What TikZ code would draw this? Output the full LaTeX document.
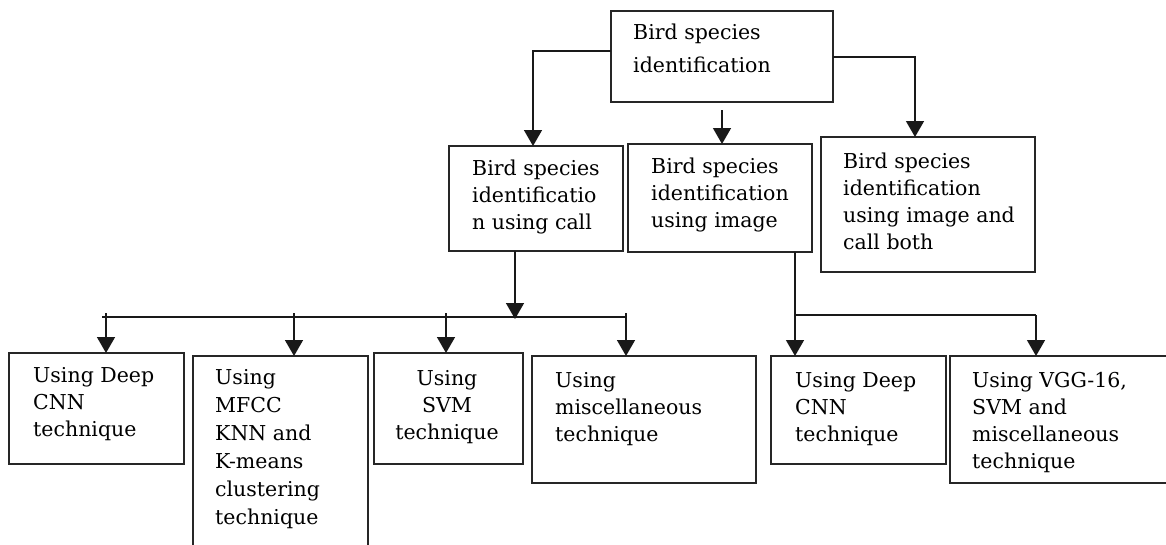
\documentclass[tikz,border=0pt]{standalone}
\usepackage{fontspec}
\setmainfont{DejaVu Serif}
\usetikzlibrary{arrows.meta}
\begin{document}
\begin{tikzpicture}[x=1pt,y=-1pt,
  box/.style={draw=black!85,line width=1.8pt,inner sep=0pt,outer sep=0pt,anchor=north west},
  txt/.style={anchor=north west,inner sep=0pt,align=left,font=\fontsize{20.5}{27}\selectfont},
  link/.style={draw=black!90,line width=1.5pt},
  arr/.style={link,-{Triangle[width=18pt,length=16pt]}}]
\useasboundingbox (0,0) rectangle (1166,544);
% boxes: top-left corner, size
\node[box,minimum width=222pt,minimum height=91pt]  (root) at (611,11) {};
\node[box,minimum width=174pt,minimum height=105pt] (call) at (449,146) {};
\node[box,minimum width=184pt,minimum height=108pt] (img)  at (628,144) {};
\node[box,minimum width=214pt,minimum height=135pt] (both) at (821,137) {};
\node[box,minimum width=175pt,minimum height=111pt] (dl)   at (9,353) {};
\node[box,minimum width=175pt,minimum height=200pt] (mfcc) at (193,356) {};
\node[box,minimum width=149pt,minimum height=111pt] (svm)  at (374,353) {};
\node[box,minimum width=224pt,minimum height=127pt] (misc) at (532,356) {};
\node[box,minimum width=175pt,minimum height=108pt] (dr)   at (771,356) {};
\node[box,minimum width=230pt,minimum height=127pt] (vgg)  at (950,356) {};
% texts
\node[txt,font=\fontsize{20.5}{33}\selectfont] (troot) at (633,24) {Bird species\\identification};
\node[txt] (tcall) at (472,160) {Bird species\\identificatio\\n using call};
\node[txt] (timg)  at (651,158) {Bird species\\identification\\using image};
\node[txt] (tboth) at (843,153) {Bird species\\identification\\using image and\\call both};
\node[txt] (tdl)   at (33,367) {Using Deep\\CNN\\technique};
\node[txt,font=\fontsize{20.5}{28}\selectfont] (tmfcc) at (215,369) {Using\\MFCC\\KNN and\\K-means\\clustering\\technique};
\node[txt,align=center,anchor=north] (tsvm) at (447,370) {Using\\SVM\\technique};
\node[txt] (tmisc) at (555,372) {Using\\miscellaneous\\technique};
\node[txt] (tdr)   at (795,372) {Using Deep\\CNN\\technique};
\node[txt] (tvgg)  at (972,372) {Using VGG-16,\\SVM and\\miscellaneous\\technique};
% root to the three methods
\draw[arr] ([yshift=5.5pt]root.west) -| ([xshift=-3pt]call.north);
\draw[arr] ([yshift=-8pt]root.south) -- (root.south |- img.north);
\draw[arr] ([yshift=-0.5pt]root.east) -| ([xshift=-13pt]both.north);
% call branch
\coordinate (cbar) at (515,317);
\draw[arr] ([xshift=-21pt]call.south) -- ([yshift=-2pt]cbar);
\draw[link] (102,317) coordinate (cl) -- (626,317) coordinate (cr);
\coordinate (c1) at (106,313);
\coordinate (c2) at (294,313);
\coordinate (c3) at (446,313);
\coordinate (c4) at (626,313);
\draw[arr] (c1) -- (c1 |- dl.north);
\draw[arr] (c2) -- (c2 |- mfcc.north);
\draw[arr] (c3) -- (c3 |- svm.north);
\draw[arr] (c4) -- (c4 |- misc.north);
% image branch
\coordinate (i0) at (795,252);
\coordinate (ibar) at (795,315);
\coordinate (i2) at (1036,315);
\draw[arr] (i0) -- (i0 |- dr.north);
\draw[link] (ibar) -- (i2);
\draw[arr] (i2) -- (i2 |- vgg.north);
\end{tikzpicture}
\end{document}
